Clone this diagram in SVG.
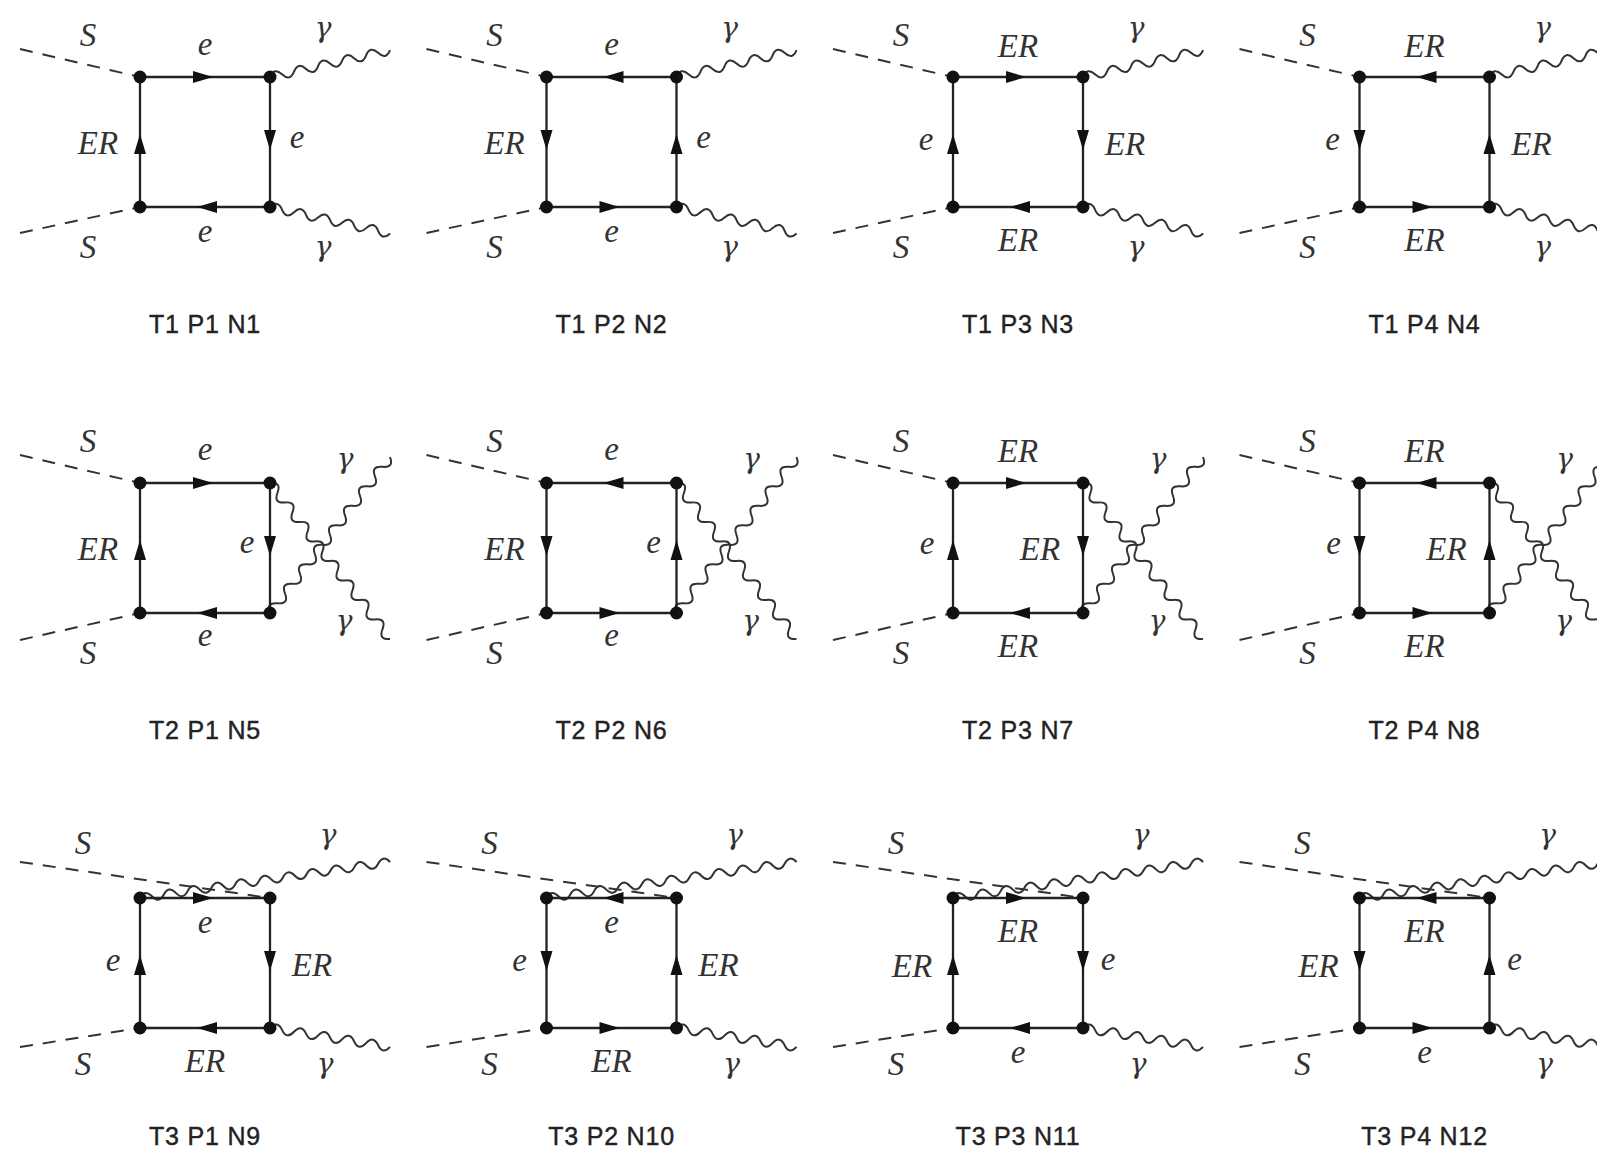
<svg xmlns="http://www.w3.org/2000/svg" xmlns:xlink="http://www.w3.org/1999/xlink" width="1597" height="1154" viewBox="0 0 1597 1154">
<style>
.ln{stroke:#222;stroke-width:2.3;fill:none}
.dash{stroke:#333;stroke-width:2;stroke-dasharray:13 10;fill:none}
.ph{stroke:#333;stroke-width:2;fill:none;stroke-linejoin:round}
.dot{fill:#111}
.arr{fill:#111}
.lb{font-family:"Liberation Serif","Times New Roman",serif;font-style:italic;font-size:33px;fill:#333;text-anchor:middle}
.g{font-family:"DejaVu Serif",serif;font-style:italic;font-size:28px;fill:#333;text-anchor:middle}
.cap{font-family:"Liberation Sans",Arial,sans-serif;font-size:25px;fill:#222;stroke:#222;stroke-width:0.4;text-anchor:middle;letter-spacing:0.8px}
</style>
<defs>
<path id="a" class="arr" d="M8,0 L-12,-6 L-12,6 Z"/>
<path id="w1" class="ph" d="M0,0q6.15,-9 12.3,0t12.3,0t12.3,0t12.3,0t12.3,0t12.3,0t12.3,0t12.3,0t12.3,0t12.3,0"/>
<path id="w2" class="ph" d="M0,0q6.15,-10 12.3,0t12.3,0t12.3,0t12.3,0t12.3,0t12.3,0t12.3,0t12.3,0t12.3,0t12.3,0t12.3,0t12.3,0t12.3,0t12.3,0t12.3,0t12.3,0"/>
<path id="w3" class="ph" d="M0,0q6.015,-8.5 12.03,0t12.03,0t12.03,0t12.03,0t12.03,0t12.03,0t12.03,0t12.03,0t12.03,0t12.03,0t12.03,0t12.03,0t12.03,0t12.03,0t12.03,0t12.03,0t12.03,0t12.03,0t12.03,0t12.03,0t12.03,0"/>
<path id="w4" class="ph" d="M0,0q6.075,-9 12.15,0t12.15,0t12.15,0t12.15,0t12.15,0t12.15,0t12.15,0t12.15,0t12.15,0t12.15,0"/>
</defs>
<rect width="1597" height="1154" fill="#fff"/>

<!-- ===== Row 1 (T1) ===== -->
<g id="n1" transform="translate(140,77)">
<g class="connectors">
<path class="dash" d="M-120,-28 L0,0 M-120,156 L0,130"/>
<use href="#w1" transform="translate(130,0) rotate(-12.6)"/>
<use href="#w1" transform="translate(130,130) rotate(12.4)"/>
<path class="ln" d="M0,0 H130 V130 H0 Z"/>
<use href="#a" transform="translate(65,0)"/><use href="#a" transform="translate(130,65) rotate(90)"/><use href="#a" transform="translate(65,130) rotate(180)"/><use href="#a" transform="translate(0,65) rotate(-90)"/>
</g>
<g class="vertices"><circle class="dot" cx="0" cy="0" r="6.5"/><circle class="dot" cx="130" cy="0" r="6.5"/><circle class="dot" cx="0" cy="130" r="6.5"/><circle class="dot" cx="130" cy="130" r="6.5"/></g>
<text class="lb" x="-52" y="-31">S</text><text class="lb" x="-52" y="181">S</text><text class="g" x="183" y="-40">γ</text><text class="g" x="183" y="179">γ</text>
<text class="lb" x="65" y="-22">e</text><text class="lb" x="157" y="71">e</text><text class="lb" x="65" y="165">e</text><text class="lb" x="-42" y="77">ER</text>
<text class="cap" x="65" y="256">T1 P1 N1</text>
</g>

<g id="n2" transform="translate(546.5,77)">
<g class="connectors">
<path class="dash" d="M-120,-28 L0,0 M-120,156 L0,130"/>
<use href="#w1" transform="translate(130,0) rotate(-12.6)"/>
<use href="#w1" transform="translate(130,130) rotate(12.4)"/>
<path class="ln" d="M0,0 H130 V130 H0 Z"/>
<use href="#a" transform="translate(65,0) rotate(180)"/><use href="#a" transform="translate(130,65) rotate(-90)"/><use href="#a" transform="translate(65,130)"/><use href="#a" transform="translate(0,65) rotate(90)"/>
</g>
<g class="vertices"><circle class="dot" cx="0" cy="0" r="6.5"/><circle class="dot" cx="130" cy="0" r="6.5"/><circle class="dot" cx="0" cy="130" r="6.5"/><circle class="dot" cx="130" cy="130" r="6.5"/></g>
<text class="lb" x="-52" y="-31">S</text><text class="lb" x="-52" y="181">S</text><text class="g" x="183" y="-40">γ</text><text class="g" x="183" y="179">γ</text>
<text class="lb" x="65" y="-22">e</text><text class="lb" x="157" y="71">e</text><text class="lb" x="65" y="165">e</text><text class="lb" x="-42" y="77">ER</text>
<text class="cap" x="65" y="256">T1 P2 N2</text>
</g>

<g id="n3" transform="translate(953,77)">
<g class="connectors">
<path class="dash" d="M-120,-28 L0,0 M-120,156 L0,130"/>
<use href="#w1" transform="translate(130,0) rotate(-12.6)"/>
<use href="#w1" transform="translate(130,130) rotate(12.4)"/>
<path class="ln" d="M0,0 H130 V130 H0 Z"/>
<use href="#a" transform="translate(65,0)"/><use href="#a" transform="translate(130,65) rotate(90)"/><use href="#a" transform="translate(65,130) rotate(180)"/><use href="#a" transform="translate(0,65) rotate(-90)"/>
</g>
<g class="vertices"><circle class="dot" cx="0" cy="0" r="6.5"/><circle class="dot" cx="130" cy="0" r="6.5"/><circle class="dot" cx="0" cy="130" r="6.5"/><circle class="dot" cx="130" cy="130" r="6.5"/></g>
<text class="lb" x="-52" y="-31">S</text><text class="lb" x="-52" y="181">S</text><text class="g" x="183" y="-40">γ</text><text class="g" x="183" y="179">γ</text>
<text class="lb" x="65" y="-20">ER</text><text class="lb" x="172" y="78">ER</text><text class="lb" x="65" y="174">ER</text><text class="lb" x="-27" y="73">e</text>
<text class="cap" x="65" y="256">T1 P3 N3</text>
</g>

<g id="n4" transform="translate(1359.5,77)">
<g class="connectors">
<path class="dash" d="M-120,-28 L0,0 M-120,156 L0,130"/>
<use href="#w1" transform="translate(130,0) rotate(-12.6)"/>
<use href="#w1" transform="translate(130,130) rotate(12.4)"/>
<path class="ln" d="M0,0 H130 V130 H0 Z"/>
<use href="#a" transform="translate(65,0) rotate(180)"/><use href="#a" transform="translate(130,65) rotate(-90)"/><use href="#a" transform="translate(65,130)"/><use href="#a" transform="translate(0,65) rotate(90)"/>
</g>
<g class="vertices"><circle class="dot" cx="0" cy="0" r="6.5"/><circle class="dot" cx="130" cy="0" r="6.5"/><circle class="dot" cx="0" cy="130" r="6.5"/><circle class="dot" cx="130" cy="130" r="6.5"/></g>
<text class="lb" x="-52" y="-31">S</text><text class="lb" x="-52" y="181">S</text><text class="g" x="183" y="-40">γ</text><text class="g" x="183" y="179">γ</text>
<text class="lb" x="65" y="-20">ER</text><text class="lb" x="172" y="78">ER</text><text class="lb" x="65" y="174">ER</text><text class="lb" x="-27" y="73">e</text>
<text class="cap" x="65" y="256">T1 P4 N4</text>
</g>

<!-- ===== Row 2 (T2) ===== -->
<g id="n5" transform="translate(140,483)">
<g class="connectors">
<path class="dash" d="M-120,-28 L0,0 M-120,157 L0,130"/>
<use href="#w2" transform="translate(130,0) rotate(52.43)"/>
<use href="#w2" transform="translate(130,130) rotate(-52.43)"/>
<path class="ln" d="M0,0 H130 V130 H0 Z"/>
<use href="#a" transform="translate(65,0)"/><use href="#a" transform="translate(130,65) rotate(90)"/><use href="#a" transform="translate(65,130) rotate(180)"/><use href="#a" transform="translate(0,65) rotate(-90)"/>
</g>
<g class="vertices"><circle class="dot" cx="0" cy="0" r="6.5"/><circle class="dot" cx="130" cy="0" r="6.5"/><circle class="dot" cx="0" cy="130" r="6.5"/><circle class="dot" cx="130" cy="130" r="6.5"/></g>
<text class="lb" x="-52" y="-31">S</text><text class="lb" x="-52" y="181">S</text><text class="g" x="205" y="-15">γ</text><text class="g" x="204" y="147">γ</text>
<text class="lb" x="65" y="-23">e</text><text class="lb" x="107" y="70">e</text><text class="lb" x="65" y="163">e</text><text class="lb" x="-42" y="77">ER</text>
<text class="cap" x="65" y="256">T2 P1 N5</text>
</g>

<g id="n6" transform="translate(546.5,483)">
<g class="connectors">
<path class="dash" d="M-120,-28 L0,0 M-120,157 L0,130"/>
<use href="#w2" transform="translate(130,0) rotate(52.43)"/>
<use href="#w2" transform="translate(130,130) rotate(-52.43)"/>
<path class="ln" d="M0,0 H130 V130 H0 Z"/>
<use href="#a" transform="translate(65,0) rotate(180)"/><use href="#a" transform="translate(130,65) rotate(-90)"/><use href="#a" transform="translate(65,130)"/><use href="#a" transform="translate(0,65) rotate(90)"/>
</g>
<g class="vertices"><circle class="dot" cx="0" cy="0" r="6.5"/><circle class="dot" cx="130" cy="0" r="6.5"/><circle class="dot" cx="0" cy="130" r="6.5"/><circle class="dot" cx="130" cy="130" r="6.5"/></g>
<text class="lb" x="-52" y="-31">S</text><text class="lb" x="-52" y="181">S</text><text class="g" x="205" y="-15">γ</text><text class="g" x="204" y="147">γ</text>
<text class="lb" x="65" y="-23">e</text><text class="lb" x="107" y="70">e</text><text class="lb" x="65" y="163">e</text><text class="lb" x="-42" y="77">ER</text>
<text class="cap" x="65" y="256">T2 P2 N6</text>
</g>

<g id="n7" transform="translate(953,483)">
<g class="connectors">
<path class="dash" d="M-120,-28 L0,0 M-120,157 L0,130"/>
<use href="#w2" transform="translate(130,0) rotate(52.43)"/>
<use href="#w2" transform="translate(130,130) rotate(-52.43)"/>
<path class="ln" d="M0,0 H130 V130 H0 Z"/>
<use href="#a" transform="translate(65,0)"/><use href="#a" transform="translate(130,65) rotate(90)"/><use href="#a" transform="translate(65,130) rotate(180)"/><use href="#a" transform="translate(0,65) rotate(-90)"/>
</g>
<g class="vertices"><circle class="dot" cx="0" cy="0" r="6.5"/><circle class="dot" cx="130" cy="0" r="6.5"/><circle class="dot" cx="0" cy="130" r="6.5"/><circle class="dot" cx="130" cy="130" r="6.5"/></g>
<text class="lb" x="-52" y="-31">S</text><text class="lb" x="-52" y="181">S</text><text class="g" x="205" y="-15">γ</text><text class="g" x="204" y="147">γ</text>
<text class="lb" x="65" y="-21">ER</text><text class="lb" x="87" y="77">ER</text><text class="lb" x="65" y="174">ER</text><text class="lb" x="-26" y="71">e</text>
<text class="cap" x="65" y="256">T2 P3 N7</text>
</g>

<g id="n8" transform="translate(1359.5,483)">
<g class="connectors">
<path class="dash" d="M-120,-28 L0,0 M-120,157 L0,130"/>
<use href="#w2" transform="translate(130,0) rotate(52.43)"/>
<use href="#w2" transform="translate(130,130) rotate(-52.43)"/>
<path class="ln" d="M0,0 H130 V130 H0 Z"/>
<use href="#a" transform="translate(65,0) rotate(180)"/><use href="#a" transform="translate(130,65) rotate(-90)"/><use href="#a" transform="translate(65,130)"/><use href="#a" transform="translate(0,65) rotate(90)"/>
</g>
<g class="vertices"><circle class="dot" cx="0" cy="0" r="6.5"/><circle class="dot" cx="130" cy="0" r="6.5"/><circle class="dot" cx="0" cy="130" r="6.5"/><circle class="dot" cx="130" cy="130" r="6.5"/></g>
<text class="lb" x="-52" y="-31">S</text><text class="lb" x="-52" y="181">S</text><text class="g" x="205" y="-15">γ</text><text class="g" x="204" y="147">γ</text>
<text class="lb" x="65" y="-21">ER</text><text class="lb" x="87" y="77">ER</text><text class="lb" x="65" y="174">ER</text><text class="lb" x="-26" y="71">e</text>
<text class="cap" x="65" y="256">T2 P4 N8</text>
</g>

<!-- ===== Row 3 (T3) ===== -->
<g id="n9" transform="translate(140,898)">
<g class="connectors">
<path class="dash" d="M-120,-36 L130,0 M-120,149 L0,130"/>
<use href="#w3" transform="translate(0,0) rotate(-8.19)"/>
<use href="#w4" transform="translate(130,130) rotate(8.96)"/>
<path class="ln" d="M0,0 H130 V130 H0 Z"/>
<use href="#a" transform="translate(65,0)"/><use href="#a" transform="translate(130,65) rotate(90)"/><use href="#a" transform="translate(65,130) rotate(180)"/><use href="#a" transform="translate(0,65) rotate(-90)"/>
</g>
<g class="vertices"><circle class="dot" cx="0" cy="0" r="6.5"/><circle class="dot" cx="130" cy="0" r="6.5"/><circle class="dot" cx="0" cy="130" r="6.5"/><circle class="dot" cx="130" cy="130" r="6.5"/></g>
<text class="lb" x="-57" y="-44">S</text><text class="lb" x="-57" y="177">S</text><text class="g" x="188" y="-54">γ</text><text class="g" x="185" y="175">γ</text>
<text class="lb" x="65" y="35">e</text><text class="lb" x="172" y="78">ER</text><text class="lb" x="65" y="174">ER</text><text class="lb" x="-27" y="73">e</text>
<text class="cap" x="65" y="247">T3 P1 N9</text>
</g>

<g id="n10" transform="translate(546.5,898)">
<g class="connectors">
<path class="dash" d="M-120,-36 L130,0 M-120,149 L0,130"/>
<use href="#w3" transform="translate(0,0) rotate(-8.19)"/>
<use href="#w4" transform="translate(130,130) rotate(8.96)"/>
<path class="ln" d="M0,0 H130 V130 H0 Z"/>
<use href="#a" transform="translate(65,0) rotate(180)"/><use href="#a" transform="translate(130,65) rotate(-90)"/><use href="#a" transform="translate(65,130)"/><use href="#a" transform="translate(0,65) rotate(90)"/>
</g>
<g class="vertices"><circle class="dot" cx="0" cy="0" r="6.5"/><circle class="dot" cx="130" cy="0" r="6.5"/><circle class="dot" cx="0" cy="130" r="6.5"/><circle class="dot" cx="130" cy="130" r="6.5"/></g>
<text class="lb" x="-57" y="-44">S</text><text class="lb" x="-57" y="177">S</text><text class="g" x="188" y="-54">γ</text><text class="g" x="185" y="175">γ</text>
<text class="lb" x="65" y="35">e</text><text class="lb" x="172" y="78">ER</text><text class="lb" x="65" y="174">ER</text><text class="lb" x="-27" y="73">e</text>
<text class="cap" x="65" y="247">T3 P2 N10</text>
</g>

<g id="n11" transform="translate(953,898)">
<g class="connectors">
<path class="dash" d="M-120,-36 L130,0 M-120,149 L0,130"/>
<use href="#w3" transform="translate(0,0) rotate(-8.19)"/>
<use href="#w4" transform="translate(130,130) rotate(8.96)"/>
<path class="ln" d="M0,0 H130 V130 H0 Z"/>
<use href="#a" transform="translate(65,0)"/><use href="#a" transform="translate(130,65) rotate(90)"/><use href="#a" transform="translate(65,130) rotate(180)"/><use href="#a" transform="translate(0,65) rotate(-90)"/>
</g>
<g class="vertices"><circle class="dot" cx="0" cy="0" r="6.5"/><circle class="dot" cx="130" cy="0" r="6.5"/><circle class="dot" cx="0" cy="130" r="6.5"/><circle class="dot" cx="130" cy="130" r="6.5"/></g>
<text class="lb" x="-57" y="-44">S</text><text class="lb" x="-57" y="177">S</text><text class="g" x="188" y="-54">γ</text><text class="g" x="185" y="175">γ</text>
<text class="lb" x="65" y="44">ER</text><text class="lb" x="155" y="72">e</text><text class="lb" x="65" y="165">e</text><text class="lb" x="-41" y="79">ER</text>
<text class="cap" x="65" y="247">T3 P3 N11</text>
</g>

<g id="n12" transform="translate(1359.5,898)">
<g class="connectors">
<path class="dash" d="M-120,-36 L130,0 M-120,149 L0,130"/>
<use href="#w3" transform="translate(0,0) rotate(-8.19)"/>
<use href="#w4" transform="translate(130,130) rotate(8.96)"/>
<path class="ln" d="M0,0 H130 V130 H0 Z"/>
<use href="#a" transform="translate(65,0) rotate(180)"/><use href="#a" transform="translate(130,65) rotate(-90)"/><use href="#a" transform="translate(65,130)"/><use href="#a" transform="translate(0,65) rotate(90)"/>
</g>
<g class="vertices"><circle class="dot" cx="0" cy="0" r="6.5"/><circle class="dot" cx="130" cy="0" r="6.5"/><circle class="dot" cx="0" cy="130" r="6.5"/><circle class="dot" cx="130" cy="130" r="6.5"/></g>
<text class="lb" x="-57" y="-44">S</text><text class="lb" x="-57" y="177">S</text><text class="g" x="188" y="-54">γ</text><text class="g" x="185" y="175">γ</text>
<text class="lb" x="65" y="44">ER</text><text class="lb" x="155" y="72">e</text><text class="lb" x="65" y="165">e</text><text class="lb" x="-41" y="79">ER</text>
<text class="cap" x="65" y="247">T3 P4 N12</text>
</g>
</svg>
